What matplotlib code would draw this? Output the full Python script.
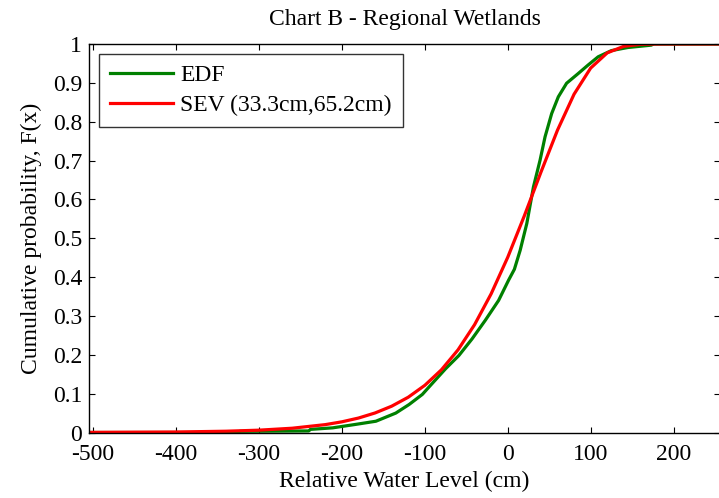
import matplotlib
matplotlib.use("Agg")
import matplotlib.pyplot as plt

plt.rcParams['font.family'] = ['Liberation Serif', 'DejaVu Serif']

edf_x = [-505, -325, -323, -240, -238, -211, -183, -159, -135, -119, -103, -95, -75,
         -59, -43, -27, -11, 1, 8, 15, 23, 31, 39, 45, 53, 61, 71, 85, 97, 109,
         125, 145, 173, 176, 256]
edf_y = [0, 0, 0.003, 0.004, 0.008, 0.012, 0.021, 0.029, 0.050, 0.072, 0.098, 0.117, 0.164,
         0.198, 0.241, 0.289, 0.340, 0.392, 0.42, 0.469, 0.538, 0.632, 0.701, 0.761, 0.821,
         0.864, 0.899, 0.924, 0.946, 0.967, 0.983, 0.991, 0.997, 1.0, 1.0]

# SEV fitted CDF
sev_x = [-505, -400, -340, -300, -260, -220, -200, -180, -160, -140, -120, -100, -80,
         -60, -40, -20, 0, 20, 40, 60, 80, 100, 120, 140, 160, 180, 200, 256]
sev_y = [0.0003, 0.0013, 0.0033, 0.006, 0.011, 0.0203, 0.0275, 0.0372, 0.0503, 0.0677,
         0.0908, 0.1214, 0.1613, 0.2126, 0.2775, 0.357, 0.451, 0.5576, 0.6698, 0.7782,
         0.8708, 0.938, 0.9772, 0.9941, 0.9991, 0.9999, 1.0, 1.0]

xticks = [-500, -400, -300, -200, -100, 0, 100, 200]
yticks = [0, 0.1, 0.2, 0.3, 0.4, 0.5, 0.6, 0.7, 0.8, 0.9, 1]
ytick_labels = ['0', '0.1', '0.2', '0.3', '0.4', '0.5', '0.6', '0.7', '0.8', '0.9', '1']

FS = 17

fig = plt.figure(figsize=(7.19, 4.98), dpi=100)
ax = fig.add_axes([89/719, (498-432.5)/498, (720-89)/719, (432.5-44)/498])

ax.plot(edf_x, edf_y, color=(0, 0.5, 0), lw=2.3, label='EDF')
ax.plot(sev_x, sev_y, color='red', lw=2.3, label='SEV (33.3cm,65.2cm)')

ax.set_xlim(-505, 256)
ax.set_ylim(0, 1)
ax.set_xticks(xticks)
ax.set_xticklabels([str(t) for t in xticks])
ax.set_yticks(yticks)
ax.set_yticklabels(ytick_labels)
ax.tick_params(direction='in', top=True, right=True, length=4.5, labelsize=FS)
ax.tick_params(axis='x', pad=8.5)
ax.tick_params(axis='y', pad=5)
for s in ax.spines.values():
    s.set_linewidth(1.0)

ax.set_title('Chart B - Regional Wetlands', fontsize=FS, pad=13.5)
ax.set_xlabel('Relative Water Level (cm)', fontsize=FS, labelpad=4)
ax.set_ylabel('Cumulative probability, F(x)', fontsize=FS, labelpad=8)

leg = ax.legend(loc='upper left', bbox_to_anchor=(10/631, 1 - 10/388.5), fontsize=FS,
                frameon=True, fancybox=False, edgecolor='black', borderaxespad=0,
                handlelength=2.7, handletextpad=0.3, labelspacing=0.35, borderpad=0.45)
leg.get_frame().set_linewidth(1.0)

fig.savefig('out.png', dpi=100)
